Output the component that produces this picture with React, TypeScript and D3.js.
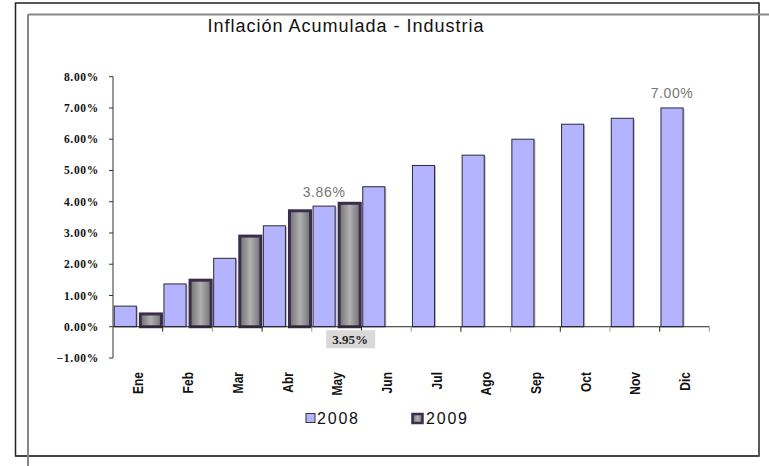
import React from "react";
import * as d3 from "d3";

const months = ["Ene", "Feb", "Mar", "Abr", "May", "Jun", "Jul", "Ago", "Sep", "Oct", "Nov", "Dic"];
const seriesNames = ["2008", "2009"];
const values2008 = [0.66, 1.37, 2.19, 3.23, 3.86, 4.48, 5.16, 5.49, 6.0, 6.48, 6.67, 7.0];
const values2009 = [0.41, 1.49, 2.9, 3.71, 3.95];
const yTicks = [-1, 0, 1, 2, 3, 4, 5, 6, 7, 8];
// which bars carry a data label
const labeled2008 = ["May", "Dic"];
const labeled2009 = ["May"];

const W = 769;
const H = 466;
const margin = { left: 113, right: 60, top: 76.7, bottom: 108 };

export default function App() {
  const x = d3.scaleBand().domain(months).range([margin.left, 709.4]).padding(0);
  const sub = d3.scaleBand().domain(seriesNames).range([0, x.step()]).paddingInner(0.12).paddingOuter(0.05);
  const y = d3.scaleLinear().domain([-1, 8]).range([358, margin.top]);
  const fmt = (v) => d3.format(".2f")(v) + "%";

  const bars2008 = months.map((m, i) => ({ m, v: values2008[i] }));
  const bars2009 = values2009.map((v, i) => ({ m: months[i], v }));

  const bx = (m, s) => x(m) + sub(s);
  const bw = sub.bandwidth();

  return (
    <svg width={W} height={H} style={{ position: "absolute", left: 0, top: 0, background: "#fff" }}>
      <defs>
        <linearGradient id="g2009" x1="0" x2="1" y1="0" y2="0">
          <stop offset="0%" stopColor="#707070" />
          <stop offset="50%" stopColor="#b0b0b0" />
          <stop offset="100%" stopColor="#707070" />
        </linearGradient>
      </defs>

      {/* frames */}
      <rect x={15.5} y={3} width={743.5} height={453} fill="none" stroke="#222" strokeWidth={1.5} />
      <line x1={15.5} x2={759} y1={456} y2={456} stroke="#444" strokeWidth={2.2} />
      <line x1={28} x2={769} y1={14.5} y2={14.5} stroke="#888" strokeWidth={2} />
      <line x1={28} x2={28} y1={14.5} y2={466} stroke="#888" strokeWidth={2} />

      <text x={346} y={32} textAnchor="middle" fontFamily="Liberation Sans, Arial, sans-serif" fontSize={18} letterSpacing={1} fill="#111">
        Inflación Acumulada - Industria
      </text>

      {/* y axis */}
      <line x1={margin.left} x2={margin.left} y1={y(8)} y2={y(-1)} stroke="#333" />
      {yTicks.map((t) => (
        <g key={t}>
          <line x1={margin.left - 4} x2={margin.left} y1={y(t)} y2={y(t)} stroke="#333" />
          <text x={margin.left - 14} y={y(t)} dy="0.35em" textAnchor="end" fontFamily="Liberation Serif, Times New Roman, serif" fontWeight="bold" fontSize={11.5} letterSpacing={0.7} fill="#111">
            {fmt(t)}
          </text>
        </g>
      ))}

      {/* 2008 bars */}
      {bars2008.map((d) => (
        <g key={"a" + d.m}>
          <rect x={bx(d.m, "2008") + 1.5} y={y(d.v) + 1} width={bw} height={y(0) - y(d.v) - 1} fill="#bdbdbd" />
          <rect x={bx(d.m, "2008")} y={y(d.v)} width={bw} height={y(0) - y(d.v)} fill="#b3b3ff" stroke="#2a2a3a" strokeWidth={1} />
        </g>
      ))}

      {/* 2009 bars */}
      {bars2009.map((d) => (
        <rect key={"b" + d.m} x={bx(d.m, "2009") + 1} y={y(d.v)} width={bw - 1} height={y(0) - y(d.v)} fill="url(#g2009)" stroke="#3b2d4d" strokeWidth={3} />
      ))}

      {/* x axis */}
      <line x1={margin.left} x2={709.4} y1={y(0)} y2={y(0)} stroke="#222" />
      {months.concat(["end"]).map((m, i) => {
        const tx = margin.left + i * x.step();
        return <line key={"t" + i} x1={tx} x2={tx} y1={y(0)} y2={y(0) + 5} stroke={i % 2 ? "#222" : "#999"} />;
      })}
      {months.map((m) => (
        <text key={"l" + m} transform={`translate(${x(m) + x.bandwidth() / 2},372) rotate(-90) scale(0.86,1)`} dy="0.4em" textAnchor="end" fontFamily="Liberation Sans, Arial, sans-serif" fontWeight="bold" fontSize={14} fill="#111">
          {m}
        </text>
      ))}

      {/* data labels */}
      {bars2008.filter((d) => labeled2008.includes(d.m)).map((d) => (
        <text key={"d" + d.m} x={bx(d.m, "2008") + bw / 2} y={y(d.v) - 9.5} textAnchor="middle" fontFamily="Liberation Sans, Arial, sans-serif" fontSize={14} letterSpacing={0.6} fill="#777">
          {fmt(d.v)}
        </text>
      ))}
      {bars2009.filter((d) => labeled2009.includes(d.m)).map((d) => {
        const cx = bx(d.m, "2009") + bw / 2 + 1;
        return (
          <g key={"e" + d.m}>
            <rect x={cx - 24} y={y(0) + 3.5} width={49} height={18} fill="#d9d9d9" />
            <text x={cx} y={y(0) + 17} textAnchor="middle" fontFamily="Liberation Serif, Times New Roman, serif" fontWeight="bold" fontSize={13} fill="#222">
              {fmt(d.v)}
            </text>
          </g>
        );
      })}

      {/* legend */}
      <rect x={306} y={413.5} width={9} height={9} fill="#b3b3ff" stroke="#333" />
      <text x={317} y={424} fontFamily="Liberation Sans, Arial, sans-serif" fontSize={16} letterSpacing={1.8} fill="#111">2008</text>
      <rect x={412.5} y={414} width={10} height={9} fill="url(#g2009)" stroke="#3b2d4d" strokeWidth={2.5} />
      <text x={426} y={424} fontFamily="Liberation Sans, Arial, sans-serif" fontSize={16} letterSpacing={1.8} fill="#111">2009</text>
    </svg>
  );
}
